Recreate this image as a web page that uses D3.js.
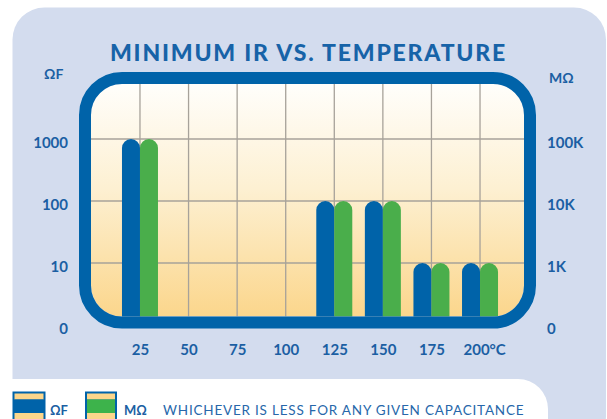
<!DOCTYPE html>
<html>
<head>
<meta charset="utf-8">
<script src="https://cdn.jsdelivr.net/npm/d3@7"></script>
<style>
  body { margin: 0; background: #fff; }
  svg { display: block; font-family: Lato, "Open Sans", sans-serif; }
</style>
</head>
<body>
<svg width="607" height="419"></svg>
<script>
// chart data
const temps = [25, 50, 75, 100, 125, 150, 175, 200];
const tempLabels = ["25", "50", "75", "100", "125", "150", "175", "200°C"];
const ohmFarad = [1000, null, null, null, 100, 100, 10, 10];
const megOhm = [100000, null, null, null, 10000, 10000, 1000, 1000];
const leftTicks = [1, 10, 100, 1000];
const leftLabels = ["0", "10", "100", "1000"];
const rightTicks = [100, 1000, 10000, 100000];
const rightLabels = ["0", "1K", "10K", "100K"];

const blue = "#0063a9";
const green = "#4aae4b";
const textBlue = "#1b5fa3";
const peach = "#fcd68b";

const svg = d3.select("svg");
const defs = svg.append("defs");

// background panels
svg.append("rect")
  .attr("x", 12.5).attr("y", 7.5)
  .attr("width", 593.5).attr("height", 440)
  .attr("rx", 32)
  .attr("fill", "#d3dcee");
svg.append("rect")
  .attr("x", -40).attr("y", 379)
  .attr("width", 588).attr("height", 90)
  .attr("rx", 30)
  .attr("fill", "#fff");

// scales
const x = d3.scaleLinear().domain([0, 225]).range([91.4, 528.6]);
const yL = d3.scaleLog().domain([1, 10000]).range([325, 77]);
const yR = d3.scaleLog().domain([100, 1000000]).range([325, 77]);
const barW = 18;

const inner = { x: 91, y: 84, w: 433, h: 232.5, r: 31 };

defs.append("clipPath").attr("id", "plot-clip")
  .append("rect")
  .attr("x", inner.x).attr("y", inner.y)
  .attr("width", inner.w).attr("height", inner.h)
  .attr("rx", inner.r);

const grad = defs.append("linearGradient")
  .attr("id", "bg-grad")
  .attr("x1", 0).attr("x2", 0).attr("y1", 0).attr("y2", 1);
grad.append("stop").attr("offset", "0%").attr("stop-color", "#fffefb");
grad.append("stop").attr("offset", "45%").attr("stop-color", "#fdf0d2");
grad.append("stop").attr("offset", "100%").attr("stop-color", "#fbd68c");

const plot = svg.append("g").attr("clip-path", "url(#plot-clip)");

plot.append("rect")
  .attr("x", inner.x).attr("y", inner.y)
  .attr("width", inner.w).attr("height", inner.h)
  .attr("fill", "url(#bg-grad)");

// grid
plot.append("g")
  .selectAll("line.h")
  .data(leftTicks.slice(1))
  .enter()
  .append("line")
  .attr("x1", inner.x).attr("x2", inner.x + inner.w)
  .attr("y1", d => yL(d)).attr("y2", d => yL(d))
  .attr("stroke", "#a7a29a")
  .attr("stroke-width", 1.3);

plot.append("g")
  .selectAll("line.v")
  .data(temps)
  .enter()
  .append("line")
  .attr("x1", d => x(d)).attr("x2", d => x(d))
  .attr("y1", inner.y).attr("y2", inner.y + inner.h)
  .attr("stroke", "#a7a29a")
  .attr("stroke-width", 1.3);

// bars
const bottom = inner.y + inner.h + 20;
plot.append("g")
  .selectAll("rect")
  .data(temps.map((t, i) => ({ t, v: ohmFarad[i] })).filter(d => d.v))
  .enter()
  .append("rect")
  .attr("x", d => x(d.t) - barW)
  .attr("y", d => yL(d.v))
  .attr("width", barW)
  .attr("height", d => bottom - yL(d.v))
  .attr("rx", barW / 2)
  .attr("fill", blue);

plot.append("g")
  .selectAll("rect")
  .data(temps.map((t, i) => ({ t, v: megOhm[i] })).filter(d => d.v))
  .enter()
  .append("rect")
  .attr("x", d => x(d.t))
  .attr("y", d => yR(d.v))
  .attr("width", barW)
  .attr("height", d => bottom - yR(d.v))
  .attr("rx", barW / 2)
  .attr("fill", green);

// frame
svg.append("rect")
  .attr("x", 85).attr("y", 78)
  .attr("width", 445).attr("height", 244.5)
  .attr("rx", 37)
  .attr("fill", "none")
  .attr("stroke", blue)
  .attr("stroke-width", 12);

// axes
const styleAxis = g => {
  g.select(".domain").remove();
  g.selectAll("text")
    .attr("fill", textBlue)
    .attr("font-family", "Lato, sans-serif")
    .attr("font-weight", 700)
    .attr("font-size", 15);
};

svg.append("g")
  .attr("transform", "translate(68,4)")
  .call(d3.axisLeft(yL).tickValues(leftTicks).tickSize(0).tickPadding(0)
    .tickFormat((d, i) => leftLabels[i]))
  .call(styleAxis);

svg.append("g")
  .attr("transform", "translate(547,4)")
  .call(d3.axisRight(yR).tickValues(rightTicks).tickSize(0).tickPadding(0)
    .tickFormat((d, i) => rightLabels[i]))
  .call(styleAxis);

const xAxis = svg.append("g")
  .attr("transform", "translate(0,344)")
  .call(d3.axisBottom(x).tickValues(temps).tickSize(0).tickPadding(0)
    .tickFormat((d, i) => tempLabels[i]))
  .call(styleAxis);
xAxis.selectAll(".tick text")
  .filter((d, i) => i === temps.length - 1)
  .attr("text-anchor", "start")
  .attr("x", -17);

// unit labels
svg.append("text")
  .attr("x", 44).attr("y", 79)
  .attr("fill", textBlue).attr("font-size", 14).attr("font-weight", 700)
  .text("ΩF");
svg.append("text")
  .attr("x", 549).attr("y", 83)
  .attr("fill", textBlue).attr("font-size", 14).attr("font-weight", 700)
  .text("MΩ");

// title
svg.append("text")
  .attr("x", 308.5).attr("y", 60.5)
  .attr("text-anchor", "middle")
  .attr("fill", "#1763a8")
  .attr("font-size", 23)
  .attr("font-weight", 900)
  .attr("letter-spacing", 1.8)
  .text("MINIMUM IR VS. TEMPERATURE");

// legend
const legend = svg.append("g");
const icon = (x0, w, mid) => {
  legend.append("rect").attr("x", x0).attr("y", 391.5).attr("width", w).attr("height", 30).attr("fill", blue);
  legend.append("rect").attr("x", x0 + 2).attr("y", 393.5).attr("width", w - 4).attr("height", 6).attr("fill", peach);
  legend.append("rect").attr("x", x0 + 2).attr("y", 399.5).attr("width", w - 4).attr("height", 13.5).attr("fill", mid);
  legend.append("rect").attr("x", x0 + 2).attr("y", 413).attr("width", w - 4).attr("height", 10).attr("fill", peach);
};
icon(12.5, 33, blue);
icon(85, 32, "#3db34b");

legend.append("text")
  .attr("x", 50).attr("y", 415)
  .attr("fill", textBlue).attr("font-size", 13).attr("font-weight", 700)
  .text("ΩF");
legend.append("text")
  .attr("x", 124).attr("y", 415)
  .attr("fill", textBlue).attr("font-size", 13).attr("font-weight", 700)
  .text("MΩ");
legend.append("text")
  .attr("x", 163).attr("y", 415)
  .attr("fill", "#2767aa").attr("font-size", 13.5)
  .attr("letter-spacing", 0.8)
  .text("WHICHEVER IS LESS FOR ANY GIVEN CAPACITANCE");
</script>
</body>
</html>
